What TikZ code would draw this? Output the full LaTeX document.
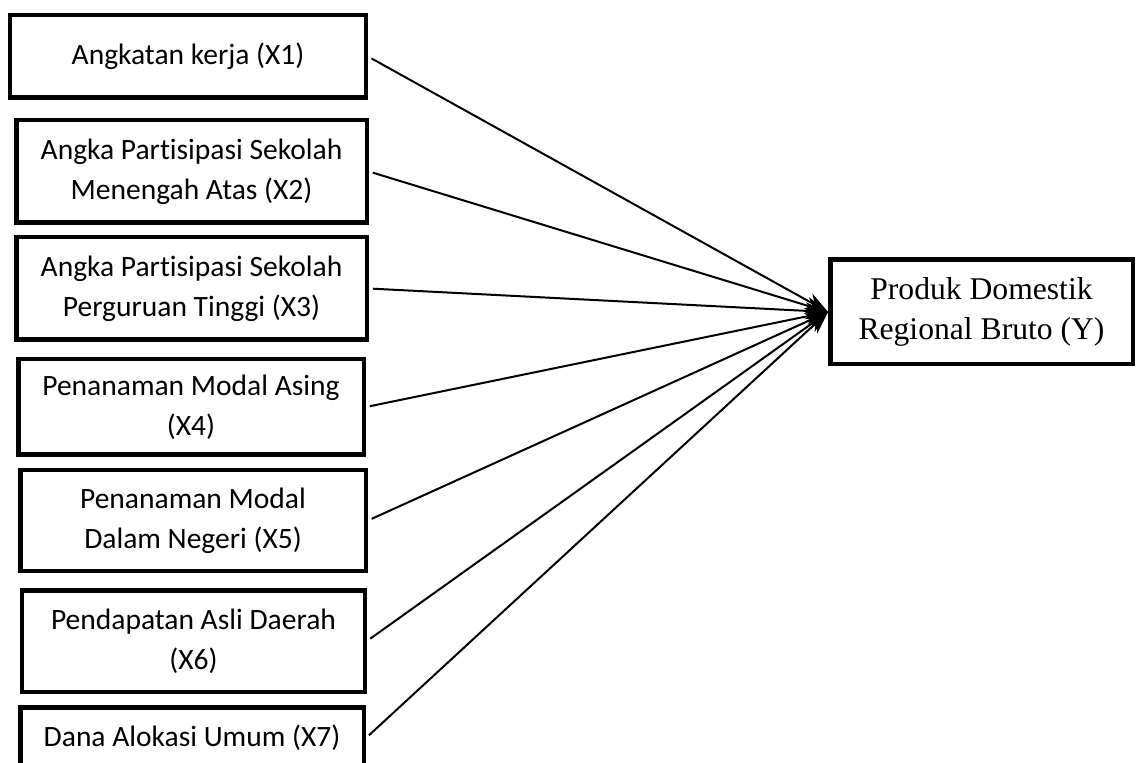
\documentclass[tikz,border=0pt]{standalone}
\usepackage{fontspec}
\setmainfont{Liberation Serif}
\newfontfamily\calibri[Ligatures=CommonOff]{Carlito}
\usetikzlibrary{arrows.meta}

\begin{document}
\begin{tikzpicture}
  [var/.style={draw, line width=0.09cm, inner sep=0pt, align=center,
     font=\calibri\fontsize{16.8}{22.8}\selectfont},
   link/.style={line width=0.04cm, shorten <=0.08cm,
     -{Stealth[length=0.45cm, width=0.34cm]}}]
  \useasboundingbox (0, 0) rectangle (22.84, 15.24);
  \node[var, minimum width=7.11cm, minimum height=1.65cm] (x1) at (3.76, 14.11)
    {Angkatan kerja (X1)};
  \node[var, minimum width=7.01cm, minimum height=2.05cm] (x2) at (3.83, 11.81)
    {Angka Partisipasi Sekolah\\Menengah Atas (X2)};
  \node[var, minimum width=7.01cm, minimum height=2.05cm] (x3) at (3.83, 9.47)
    {Angka Partisipasi Sekolah\\Perguruan Tinggi (X3)};
  \node[var, minimum width=6.91cm, minimum height=1.91cm] (x4) at (3.82, 7.10)
    {Penanaman Modal Asing\\(X4)};
  \node[var, minimum width=6.91cm, minimum height=2.01cm] (x5) at (3.86, 4.83)
    {Penanaman Modal\\Dalam Negeri (X5)};
  \node[var, minimum width=6.85cm, minimum height=2.03cm] (x6) at (3.87, 2.42)
    {Pendapatan Asli Daerah\\(X6)};
  \node[var, minimum width=6.87cm, minimum height=1.23cm] (x7) at (3.84, 0.48)
    {Dana Alokasi Umum (X7)};
  \node[var, font=\fontsize{18}{22.8}\selectfont,
    minimum width=6.05cm, minimum height=2.09cm] (y) at (19.63, 9.0)
    {Produk Domestik\\Regional Bruto (Y)};
  \draw[link] (x1.east) -- (y.west);
  \draw[link] (x2.east) -- (y.west);
  \draw[link] (x3.east) -- (y.west);
  \draw[link] (x4.east) -- (y.west);
  \draw[link] (x5.east) -- (y.west);
  \draw[link] (x6.east) -- (y.west);
  \draw[link] (x7.east) -- (y.west);
\end{tikzpicture}
\end{document}
